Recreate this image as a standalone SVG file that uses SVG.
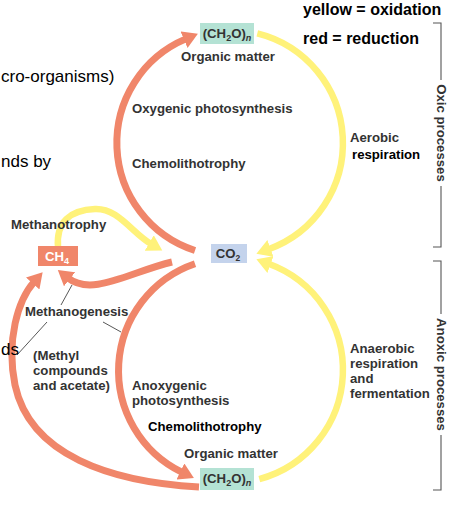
<svg xmlns="http://www.w3.org/2000/svg" width="466" height="513" viewBox="0 0 466 513">
<defs>
<style>
.lbl{font-family:"Liberation Sans",Arial,sans-serif;font-weight:bold;font-size:13.2px;fill:#333}
.blk{fill:#000}
.key{font-family:"Liberation Sans",Arial,sans-serif;font-weight:bold;font-size:16px;fill:#000}
.cut{font-family:"Liberation Sans",Arial,sans-serif;font-size:17px;fill:#000}
.red{fill:none;stroke:#f0866a;stroke-width:7}
.yel{fill:none;stroke:#fff27a;stroke-width:6.5}
.ptr{fill:none;stroke:#444;stroke-width:0.9}
.brk{fill:none;stroke:#555;stroke-width:1.1}
.org{fill:#b4e2d4}
</style>
<marker id="ar" markerUnits="userSpaceOnUse" markerWidth="16" markerHeight="18" refX="2" refY="9" orient="auto"><path d="M0,0 L15,9 L0,18 z" fill="#f0866a"/></marker>
<marker id="ay" markerUnits="userSpaceOnUse" markerWidth="16" markerHeight="18" refX="2" refY="9" orient="auto"><path d="M0,0 L15,9 L0,18 z" fill="#fff27a"/></marker>
</defs>
<rect width="466" height="513" fill="#fff"/>

<g id="connectors">
<path class="red" d="M195 250.5 A113 113 0 0 1 185.9 38.9" marker-end="url(#ar)"/>
<path class="yel" d="M257.3 33.4 A113 113 0 0 1 268.6 249.2" marker-end="url(#ay)"/>
<path class="red" d="M195 263.8 A113 113 0 0 0 182.2 472.4" marker-end="url(#ar)"/>
<path class="yel" d="M259.3 479.1 A113 113 0 0 0 268.6 263.8" marker-end="url(#ay)"/>
<path class="red" d="M199 487 C110 482 30 455 15 385 C6 340 18 300 34 282" marker-end="url(#ar)"/>
<path class="red" d="M172 262 C130 272 92 297 68 278" marker-end="url(#ar)"/>
<path class="yel" d="M58 247 C56 222 70 210 95 209 C118 208 132 233 151 244" marker-end="url(#ay)"/>
<path class="ptr" d="M61 305 L72 285 M103 322 L121 332 M17 355 L47 322"/>
</g>

<g id="ch2o-top">
<rect class="org" x="200" y="23" width="54" height="21"/>
<text class="lbl" x="227" y="38" text-anchor="middle" font-size="13">(CH<tspan font-size="9" dy="3">2</tspan><tspan dy="-3">O)</tspan><tspan font-size="9" font-style="italic" dy="3">n</tspan></text>
<text class="lbl" x="228" y="61" text-anchor="middle">Organic matter</text>
</g>

<g id="co2">
<rect x="211" y="244" width="36" height="19" fill="#c4d3ec"/>
<text class="lbl" x="228" y="258" text-anchor="middle" font-size="12">CO<tspan font-size="8.5" dy="3">2</tspan></text>
</g>

<g id="ch4">
<rect x="38" y="246" width="40" height="20" fill="#f0866a"/>
<text class="lbl" x="57" y="261" text-anchor="middle" font-size="12.5" style="fill:#fff">CH<tspan font-size="9" dy="3">4</tspan></text>
</g>

<g id="ch2o-bottom">
<rect class="org" x="200" y="468" width="54" height="22"/>
<text class="lbl" x="227" y="483" text-anchor="middle" font-size="13">(CH<tspan font-size="9" dy="3">2</tspan><tspan dy="-3">O)</tspan><tspan font-size="9" font-style="italic" dy="3">n</tspan></text>
<text class="lbl" x="231" y="458" text-anchor="middle">Organic matter</text>
</g>

<g id="labels">
<text class="lbl" x="132" y="113">Oxygenic photosynthesis</text>
<text class="lbl" x="132" y="168">Chemolithotrophy</text>
<text class="lbl" x="350" y="142" font-size="12.9">Aerobic</text>
<text class="lbl blk" x="352" y="159" font-size="13.6">respiration</text>
<text class="lbl" x="11" y="229">Methanotrophy</text>
<text class="lbl" x="25" y="316" font-size="12">Methanogenesis</text>
<text class="lbl" x="33" y="360">(Methyl</text>
<text class="lbl" x="33" y="375">compounds</text>
<text class="lbl" x="33" y="390">and acetate)</text>
<text class="lbl" x="132" y="390">Anoxygenic</text>
<text class="lbl" x="132" y="405">photosynthesis</text>
<text class="lbl blk" x="148" y="431" font-size="13.8">Chemolithotrophy</text>
<text class="lbl" x="350" y="353">Anaerobic</text>
<text class="lbl" x="350" y="368">respiration</text>
<text class="lbl" x="350" y="383">and</text>
<text class="lbl" x="350" y="398" font-size="12.6">fermentation</text>
<text class="key" x="303" y="15">yellow = oxidation</text>
<text class="key" x="303" y="44">red = reduction</text>
<text class="cut" x="1" y="82">cro-organisms)</text>
<text class="cut" x="1" y="167" font-size="16">nds by</text>
<text class="cut" x="1" y="355" font-size="16">ds</text>
</g>

<g id="brackets">
<path class="brk" d="M433 23 H441 V80 M441 186 V247 H433"/>
<path class="brk" d="M433 261 H441 V314 M441 435 V490 H433"/>
<text class="lbl" font-size="13" transform="translate(436.5,133) rotate(90)" text-anchor="middle">Oxic processes</text>
<text class="lbl" font-size="13" transform="translate(436.5,374.5) rotate(90)" text-anchor="middle">Anoxic processes</text>
</g>
</svg>
